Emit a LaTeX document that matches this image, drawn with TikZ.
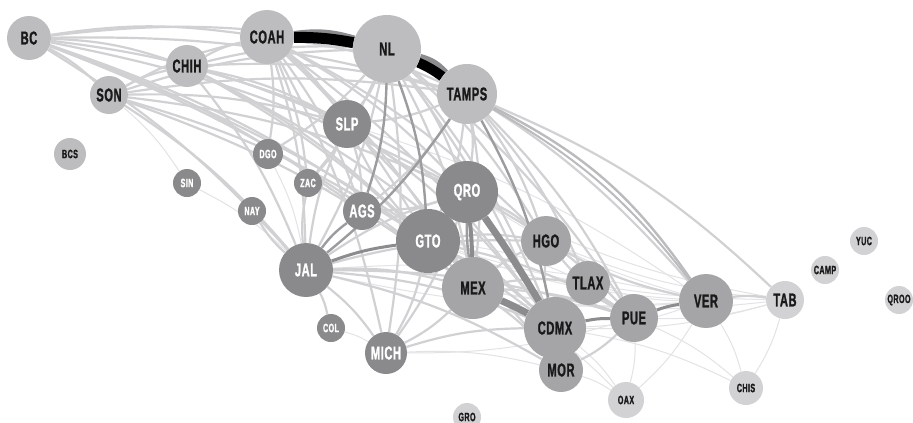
\documentclass[tikz,border=0pt]{standalone}
\usepackage{fontspec}
\usepackage{xcolor}
\usetikzlibrary{backgrounds}
\newfontfamily\statefont[FakeStretch=0.6,FakeBold=1.2,LetterSpace=3]{Liberation Sans}
\newcommand{\pxunit}{0.035cm}
\definecolor{palefill}{HTML}{D2D2D4}
\definecolor{lightfill}{HTML}{BDBDBF}
\definecolor{midfill}{HTML}{A5A5A7}
\definecolor{darkfill}{HTML}{8A8A8C}
\definecolor{linkgray}{HTML}{D1D1D3}
\definecolor{faintgray}{HTML}{E3E3E5}
\definecolor{arcgray}{HTML}{BBBBBD}
\definecolor{darkgray}{HTML}{9C9C9E}
\definecolor{heavygray}{HTML}{8C8C8E}

\begin{document}
\begin{tikzpicture}
\useasboundingbox (0,0) rectangle (913*\pxunit,-422*\pxunit);
\tikzstyle{every node}=[circle, inner sep=0pt, text=black!90]
\tikzstyle{palestate}=[fill=palefill]
\tikzstyle{lightstate}=[fill=lightfill]
\tikzstyle{midstate}=[fill=midfill]
\tikzstyle{darkstate}=[fill=darkfill, text=white]
\tikzstyle{bigname}=[font=\statefont\bfseries\fontsize{18.5}{20}\selectfont]
\tikzstyle{smallname}=[font=\statefont\bfseries\fontsize{12}{13}\selectfont]
\tikzstyle{faintlink}=[draw=faintgray, line width=1*\pxunit, bend left=8]
\tikzstyle{link}=[draw=linkgray, line width=2.2*\pxunit, bend left=8]
\tikzstyle{darklink}=[draw=darkgray, line width=2.4*\pxunit, bend left=8]
\tikzstyle{heavylink}=[draw=heavygray, bend left=6]

\node[lightstate, bigname, minimum size=44*\pxunit] (bc) at (29*\pxunit,-38*\pxunit) {BC};
\node[lightstate, bigname, minimum size=54*\pxunit] (coah) at (267*\pxunit,-37*\pxunit) {COAH};
\node[lightstate, bigname, minimum size=68*\pxunit] (nl) at (387*\pxunit,-49*\pxunit) {NL};
\node[lightstate, bigname, minimum size=42*\pxunit] (chih) at (187*\pxunit,-66*\pxunit) {CHIH};
\node[lightstate, bigname, minimum size=38*\pxunit] (son) at (109*\pxunit,-95*\pxunit) {SON};
\node[lightstate, bigname, minimum size=60*\pxunit] (tamps) at (467*\pxunit,-94*\pxunit) {TAMPS};
\node[lightstate, smallname, minimum size=32*\pxunit] (bcs) at (70*\pxunit,-154*\pxunit) {BCS};
\node[darkstate, bigname, minimum size=48*\pxunit] (slp) at (347*\pxunit,-124*\pxunit) {SLP};
\node[darkstate, smallname, minimum size=30*\pxunit] (dgo) at (268*\pxunit,-154*\pxunit) {DGO};
\node[darkstate, smallname, minimum size=28*\pxunit] (sin) at (187*\pxunit,-183*\pxunit) {SIN};
\node[darkstate, smallname, minimum size=28*\pxunit] (zac) at (308*\pxunit,-183*\pxunit) {ZAC};
\node[darkstate, smallname, minimum size=28*\pxunit] (nay) at (252*\pxunit,-211*\pxunit) {NAY};
\node[darkstate, bigname, minimum size=38*\pxunit] (ags) at (362*\pxunit,-211*\pxunit) {AGS};
\node[darkstate, bigname, minimum size=62*\pxunit] (qro) at (467*\pxunit,-192*\pxunit) {QRO};
\node[darkstate, bigname, minimum size=64*\pxunit] (gto) at (428*\pxunit,-241*\pxunit) {GTO};
\node[darkstate, bigname, minimum size=54*\pxunit] (jal) at (306*\pxunit,-270*\pxunit) {JAL};
\node[darkstate, smallname, minimum size=28*\pxunit] (col) at (331*\pxunit,-328*\pxunit) {COL};
\node[darkstate, bigname, minimum size=42*\pxunit] (mich) at (386*\pxunit,-353*\pxunit) {MICH};
\node[midstate, bigname, minimum size=50*\pxunit] (hgo) at (546*\pxunit,-241*\pxunit) {HGO};
\node[midstate, bigname, minimum size=62*\pxunit] (mex) at (473*\pxunit,-288*\pxunit) {MEX};
\node[midstate, bigname, minimum size=44*\pxunit] (tlax) at (588*\pxunit,-283*\pxunit) {TLAX};
\node[midstate, bigname, minimum size=62*\pxunit] (cdmx) at (555*\pxunit,-328*\pxunit) {CDMX};
\node[midstate, bigname, minimum size=48*\pxunit] (pue) at (634*\pxunit,-318*\pxunit) {PUE};
\node[midstate, bigname, minimum size=54*\pxunit] (ver) at (706*\pxunit,-301*\pxunit) {VER};
\node[midstate, bigname, minimum size=44*\pxunit] (mor) at (561*\pxunit,-370*\pxunit) {MOR};
\node[palestate, bigname, minimum size=38*\pxunit] (tab) at (785*\pxunit,-300*\pxunit) {TAB};
\node[palestate, smallname, minimum size=36*\pxunit] (oax) at (626*\pxunit,-400*\pxunit) {OAX};
\node[palestate, smallname, minimum size=34*\pxunit] (chis) at (746*\pxunit,-388*\pxunit) {CHIS};
\node[palestate, smallname, minimum size=28*\pxunit] (camp) at (825*\pxunit,-270*\pxunit) {CAMP};
\node[palestate, smallname, minimum size=28*\pxunit] (yuc) at (864*\pxunit,-241*\pxunit) {YUC};
\node[palestate, smallname, minimum size=28*\pxunit] (qroo) at (899*\pxunit,-300*\pxunit) {QROO};
\node[palestate, smallname, minimum size=28*\pxunit] (gro) at (467*\pxunit,-417*\pxunit) {GRO};

\begin{pgfonlayer}{background}
\fill[white] (0,0) rectangle (913*\pxunit,-422*\pxunit);

\draw[faintlink] (ver) to (jal);
\draw[faintlink] (ver) to (gto);
\draw[faintlink] (ver) to (qro);
\draw[faintlink] (ver) to (mex);
\draw[faintlink] (ver) to (cdmx);
\draw[faintlink] (ver) to (oax);
\draw[faintlink] (ver) to (chis);
\draw[faintlink] (ver) to (tlax);
\draw[faintlink] (tab) to (qro);
\draw[faintlink] (tab) to (mex);
\draw[faintlink] (tab) to (cdmx);
\draw[faintlink] (tab) to (pue);
\draw[faintlink] (tab) to (chis);
\draw[faintlink] (tab) to (hgo);
\draw[faintlink] (tab) to (gto);
\draw[faintlink] (pue) to (oax);
\draw[faintlink] (pue) to (chis);
\draw[faintlink] (pue) to (mich);
\draw[faintlink] (mor) to (oax);
\draw[faintlink] (cdmx) to (oax);
\draw[faintlink] (cdmx) to (chis);
\draw[faintlink] (mex) to (oax);
\draw[faintlink] (son) to (sin);
\draw[faintlink] (sin) to (jal);
\draw[faintlink] (dgo) to (jal);
\draw[faintlink] (zac) to (gto);
\draw[faintlink] (col) to (mich);
\draw[faintlink] (mich) to (mor);
\draw[faintlink] (jal) to (ver);
\draw[faintlink] (slp) to (ver);
\draw[faintlink] (gto) to (tlax);

\draw[link] (bc) to (coah);
\draw[link] (bc) to (nl);
\draw[link] (bc) to (tamps);
\draw[link] (bc) to (chih);
\draw[link] (bc) to (son);
\draw[link] (bc) to (slp);
\draw[link] (bc) to (jal);
\draw[link] (bc) to (gto);
\draw[link] (bc) to (qro);
\draw[link] (bc) to (mex);
\draw[link] (bc) to (cdmx);
\draw[link] (bc) to (ags);

\draw[link] (son) to (coah);
\draw[link] (son) to (nl);
\draw[link] (son) to (tamps);
\draw[link] (son) to (chih);
\draw[link] (son) to (jal);
\draw[link] (son) to (gto);
\draw[link] (son) to (qro);
\draw[link] (son) to (mex);
\draw[link] (son) to (slp);

\draw[link] (chih) to (coah);
\draw[link] (chih) to (nl);
\draw[link] (chih) to (tamps);
\draw[link] (chih) to (jal);
\draw[link] (chih) to (gto);
\draw[link] (chih) to (qro);
\draw[link] (chih) to (mex);
\draw[link] (chih) to (cdmx);
\draw[link] (chih) to (slp);

\draw[link] (coah) to (dgo);
\draw[link] (coah) to (slp);
\draw[link] (coah) to (jal);
\draw[link] (coah) to (gto);
\draw[link] (coah) to (qro);
\draw[link] (coah) to (mex);
\draw[link] (coah) to (cdmx);
\draw[link] (coah) to (ags);
\draw[link] (coah) to (zac);
\draw[link] (coah) to (tamps);
\draw[link] (coah) to (hgo);
\draw[link] (coah) to (mich);

\draw[link] (nl) to (slp);
\draw[link] (nl) to (qro);
\draw[link] (nl) to (mex);
\draw[link] (nl) to (cdmx);
\draw[link] (nl) to (hgo);
\draw[link] (nl) to[bend left=10] (ver);
\draw[link] (nl) to (pue);
\draw[link] (nl) to (jal);
\draw[link] (nl) to (mor);
\draw[link] (nl) to (mich);
\draw[link] (nl) to (zac);
\draw[link] (nl) to (dgo);

\draw[link] (tamps) to (qro);
\draw[link] (tamps) to (gto);
\draw[link] (tamps) to (mex);
\draw[link] (tamps) to (hgo);
\draw[link] (tamps) to[bend left=10] (tab);
\draw[link] (tamps) to (pue);
\draw[link] (tamps) to (slp);
\draw[link] (tamps) to (ags);
\draw[link] (tamps) to (tlax);

\draw[link] (jal) to (qro);
\draw[link] (jal) to (mex);
\draw[link] (jal) to (cdmx);
\draw[link] (jal) to (mich);
\draw[link] (jal) to (col);
\draw[link] (jal) to (nay);
\draw[link] (jal) to (zac);
\draw[link] (jal) to (slp);
\draw[link] (jal) to (pue);
\draw[link] (jal) to (mor);
\draw[link] (jal) to (hgo);

\draw[link] (gto) to (qro);
\draw[link] (gto) to (mex);
\draw[link] (gto) to (cdmx);
\draw[link] (gto) to (mich);
\draw[link] (gto) to (ags);
\draw[link] (gto) to (slp);
\draw[link] (gto) to (hgo);
\draw[link] (gto) to (pue);
\draw[link] (gto) to (mor);

\draw[link] (qro) to (hgo);
\draw[link] (qro) to (slp);
\draw[link] (qro) to (pue);
\draw[link] (qro) to (ags);
\draw[link] (qro) to (mich);
\draw[link] (mex) to (hgo);
\draw[link] (mex) to (pue);
\draw[link] (mex) to (mor);
\draw[link] (mex) to (mich);
\draw[link] (mex) to (tlax);
\draw[link] (cdmx) to (mor);
\draw[link] (cdmx) to (hgo);
\draw[link] (cdmx) to (tlax);
\draw[link] (mich) to (cdmx);
\draw[link] (pue) to (tlax);
\draw[link] (pue) to (mor);
\draw[link] (pue) to (hgo);
\draw[link] (ver) to (hgo);
\draw[link] (ver) to (tab);
\draw[link] (slp) to (ags);
\draw[link] (slp) to (zac);
\draw[link] (slp) to (mex);
\draw[link] (slp) to (cdmx);

\draw[draw=arcgray, line width=2.4*\pxunit] (tamps) to[bend left=14] (ver);
\draw[draw=arcgray, line width=2*\pxunit] (tamps) to[bend left=11] (ver);

\draw[darklink] (nl) to (ags);
\draw[darklink] (nl) to (gto);
\draw[darklink] (tamps) to (jal);
\draw[darklink] (tamps) to (cdmx);
\draw[darklink] (jal) to (ags);
\draw[darklink] (qro) to[bend right=4] (mex);

\draw[heavylink, line width=3*\pxunit] (jal) to (gto);
\draw[heavylink, line width=3*\pxunit] (cdmx) to (pue);
\draw[heavylink, line width=3*\pxunit] (pue) to (ver);
\draw[heavylink, line width=4*\pxunit] (qro) to[bend left=2] (mex);
\draw[heavylink, line width=7*\pxunit] (qro) to[bend left=2] (cdmx);
\draw[heavylink, line width=7*\pxunit] (mex) to[bend left=2] (cdmx);

\draw[heavylink, line width=6*\pxunit] (coah) to[bend left=12] (nl);
\draw[heavylink, line width=6*\pxunit] (nl) to[bend left=16] (tamps);
\draw[black, line width=11*\pxunit] (coah) to[bend left=5] (nl);
\draw[black, line width=10*\pxunit] (nl) to[bend left=6] (tamps);
\end{pgfonlayer}

\end{tikzpicture}
\end{document}
